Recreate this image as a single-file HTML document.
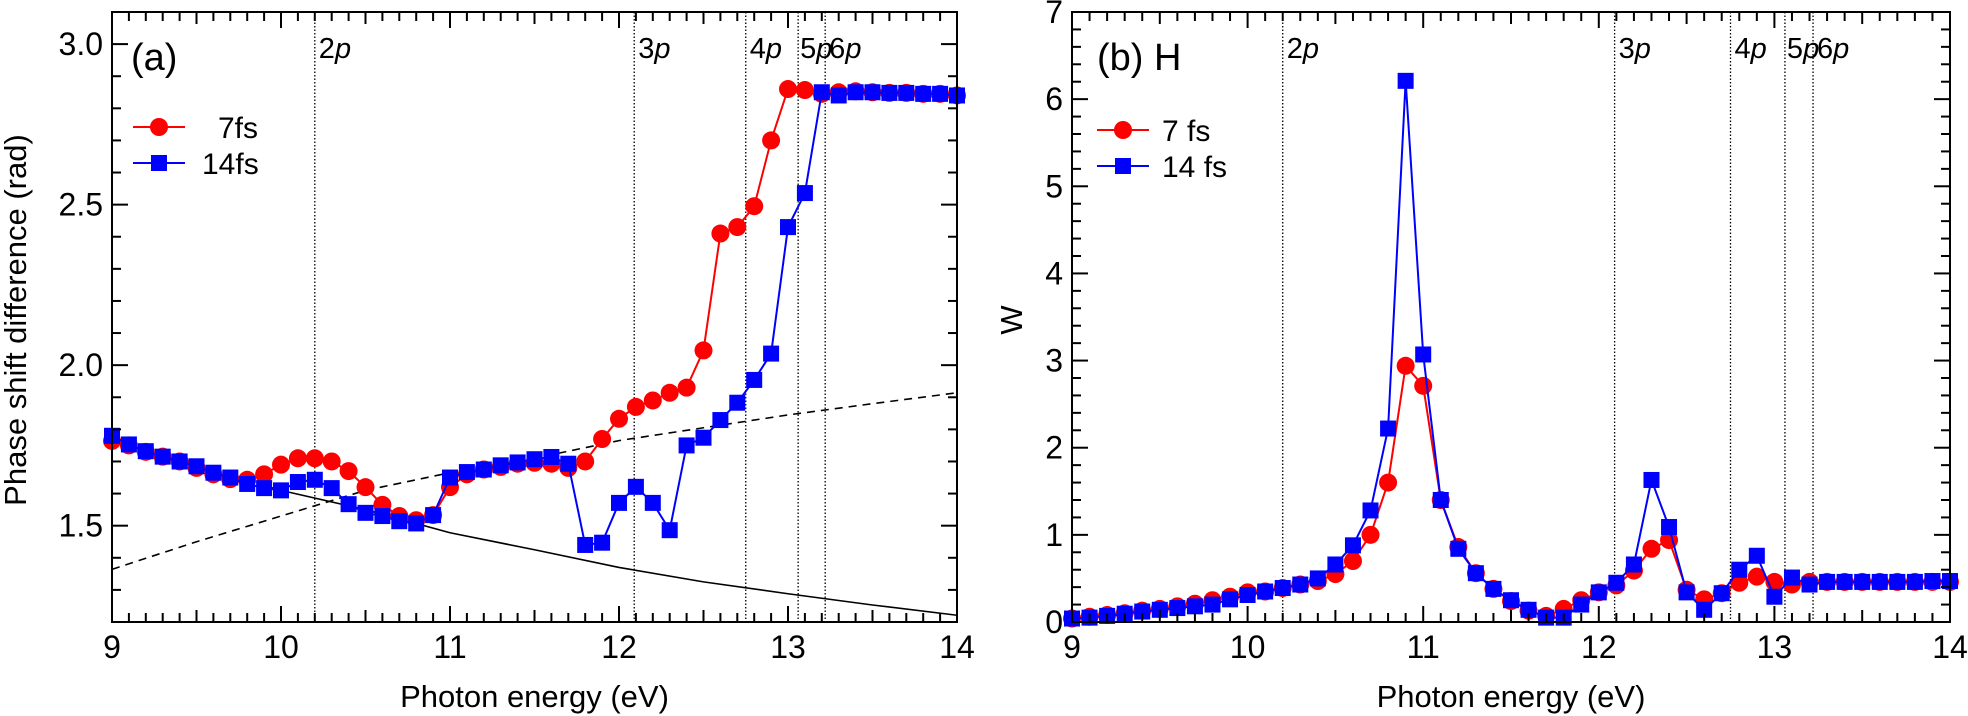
<!DOCTYPE html>
<html><head><meta charset="utf-8"><style>
html,body{margin:0;padding:0;background:#fff;}
svg{display:block;font-family:"Liberation Sans",Arial,sans-serif;}
</style></head><body>
<svg id="chart" width="1968" height="716" viewBox="0 0 1968 716"></svg>
<script>
// ---- shared x data ----
const energies = [9.0,9.1,9.2,9.3,9.4,9.5,9.6,9.7,9.8,9.9,10.0,10.1,10.2,10.3,10.4,10.5,10.6,10.7,10.8,10.9,11.0,11.1,11.2,11.3,11.4,11.5,11.6,11.7,11.8,11.9,12.0,12.1,12.2,12.3,12.4,12.5,12.6,12.7,12.8,12.9,13.0,13.1,13.2,13.3,13.4,13.5,13.6,13.7,13.8,13.9,14.0];
// ---- panel (a) phase shift ----
const phase7 = [1.764,1.75,1.73,1.715,1.70,1.68,1.66,1.645,1.643,1.66,1.69,1.71,1.71,1.70,1.67,1.62,1.565,1.53,1.517,1.533,1.62,1.66,1.675,1.683,1.693,1.696,1.693,1.68,1.70,1.77,1.833,1.87,1.89,1.914,1.93,2.046,2.41,2.43,2.495,2.70,2.86,2.857,2.845,2.85,2.853,2.85,2.848,2.848,2.845,2.845,2.84];
const phase14 = [1.78,1.753,1.732,1.715,1.70,1.685,1.665,1.65,1.63,1.617,1.61,1.636,1.643,1.617,1.567,1.54,1.53,1.514,1.507,1.533,1.65,1.667,1.675,1.688,1.697,1.707,1.714,1.693,1.44,1.447,1.571,1.621,1.571,1.486,1.75,1.774,1.829,1.883,1.954,2.036,2.43,2.536,2.85,2.84,2.85,2.85,2.848,2.848,2.845,2.845,2.84];
const solidE = [9.9,10.0,10.5,11.0,11.5,12.0,12.5,13.0,13.5,14.0];
const solidV = [1.625,1.61,1.55,1.478,1.425,1.37,1.325,1.288,1.253,1.221];
const dashE = [9.0,9.5,10.0,10.5,11.0,11.5,12.0,12.5,13.0,13.5,14.0];
const dashV = [1.364,1.45,1.53,1.61,1.665,1.71,1.765,1.805,1.845,1.88,1.914];
const aYTicks = [1.5,2.0,2.5,3.0];
const aYLabels = ["1.5","2.0","2.5","3.0"];
// ---- panel (b) W ----
const w7 = [0.04,0.06,0.08,0.10,0.13,0.15,0.18,0.21,0.25,0.29,0.34,0.35,0.39,0.43,0.47,0.55,0.70,1.0,1.6,2.94,2.71,1.40,0.86,0.56,0.38,0.24,0.13,0.07,0.15,0.25,0.34,0.42,0.59,0.84,0.94,0.37,0.26,0.33,0.45,0.52,0.46,0.43,0.46,0.46,0.46,0.46,0.46,0.46,0.46,0.46,0.46];
const w14 = [0.04,0.05,0.07,0.095,0.12,0.14,0.16,0.18,0.2,0.26,0.31,0.35,0.39,0.43,0.5,0.66,0.88,1.28,2.22,6.21,3.07,1.40,0.84,0.56,0.38,0.25,0.14,0.05,0.05,0.2,0.34,0.45,0.66,1.63,1.09,0.34,0.14,0.33,0.6,0.76,0.29,0.51,0.43,0.46,0.46,0.46,0.46,0.46,0.46,0.47,0.47];
const bYTicks = [0,1,2,3,4,5,6,7];
const xTicks = [9,10,11,12,13,14];
const levels = [10.2,12.09,12.75,13.06,13.22];
const levelNames = ["2","3","4","5","6"];

const NS="http://www.w3.org/2000/svg";
const svg=document.getElementById('chart');
function mk(tag,attrs,parent){const e=document.createElementNS(NS,tag);for(const k in attrs)e.setAttribute(k,attrs[k]);(parent||svg).appendChild(e);return e;}

function panel(p){
  const g=mk('g',{});
  
  
  const X=v=>p.x0+(v-9)/5*(p.x1-p.x0);
  const Y=v=>p.y1-(v-p.ymin)/(p.ymax-p.ymin)*(p.y1-p.y0);
  levels.forEach((e,i)=>{
    const l=mk('line',{x1:X(e),x2:X(e),y1:p.y0,y2:p.y1,stroke:'#000','stroke-width':1.3,'stroke-dasharray':'1.5,2'},g);
    
    
    const dx = (i===3)?2:4;
    const t=mk('text',{x:X(e)+dx,y:58,'font-size':29,'font-style':'normal'},g);
    
    
    t.innerHTML=levelNames[i]+'<tspan font-style="italic">p</tspan>';
  });
  if(p.extra)p.extra(g,X,Y);
  p.series.forEach(s=>{
    const pts=energies.map((e,i)=>X(e)+','+Y(s.v[i])).join(' ');
    const pl=mk('polyline',{points:pts,fill:'none',stroke:s.c,'stroke-width':2},g);
    
    
    energies.forEach((e,i)=>{
      let m;
      if(s.shape==='c') m=mk('circle',{cx:X(e),cy:Y(s.v[i]),r:9,fill:s.c},g);
      else m=mk('rect',{x:X(e)-8,y:Y(s.v[i])-8,width:16,height:16,fill:s.c},g);
      
      
    });
  });
  const fr=mk('rect',{x:p.x0,y:p.y0,width:p.x1-p.x0,height:p.y1-p.y0,fill:'none',stroke:'#000','stroke-width':2},g);
  
  
  for(let k=0;k<=50;k++){
    const v=9+k*0.1,len=(k%10===0)?16:(k%5===0?12:9),xx=X(v);
    mk('line',{x1:xx,x2:xx,y1:p.y1,y2:p.y1-len,stroke:'#000','stroke-width':2},g);
    mk('line',{x1:xx,x2:xx,y1:p.y0,y2:p.y0+len,stroke:'#000','stroke-width':2},g);
  }
  xTicks.forEach(v=>{const t=mk('text',{x:X(v),y:658,'font-size':32,'text-anchor':'middle'},g);t.textContent=v;
    });
  const n=Math.round((p.ymax-p.ymin)/p.minor);
  for(let k=0;k<=n;k++){
    const v=p.ymin+k*p.minor,yy=Y(v);
    const major=Math.abs((v/p.major)-Math.round(v/p.major))<1e-6;
    const len=major?16:9;
    mk('line',{x1:p.x0,x2:p.x0+len,y1:yy,y2:yy,stroke:'#000','stroke-width':2},g);
    mk('line',{x1:p.x1,x2:p.x1-len,y1:yy,y2:yy,stroke:'#000','stroke-width':2},g);
  }
  p.yTicks.forEach((v,i)=>{const t=mk('text',{x:p.x0-9,y:Y(v)+11,'font-size':32,'text-anchor':'end'},g);t.textContent=p.yLabels[i];
    });
  const xt=mk('text',{x:(p.x0+p.x1)/2,y:707,'font-size':31,'text-anchor':'middle'},g);xt.textContent='Photon energy (eV)';
  
  const yt=mk('text',{x:p.ytx,y:320,'font-size':31,'text-anchor':'middle',transform:'rotate(-90 '+p.ytx+' 320)'},g);yt.textContent=p.ytitle;
  
  const pt=mk('text',{x:p.x0+(p.name==='panel-a'?19:25),y:70,'font-size':38},g);pt.textContent=p.label;
  
  p.series.forEach((s,i)=>{
    const ly=p.legY[i];
    const lg=mk('g',{},g);
    
    
    mk('line',{x1:p.legX-26,x2:p.legX+26,y1:ly,y2:ly,stroke:s.c,'stroke-width':2},lg);
    if(s.shape==='c')mk('circle',{cx:p.legX,cy:ly,r:9,fill:s.c},lg);else mk('rect',{x:p.legX-8,y:ly-8,width:16,height:16,fill:s.c},lg);
    const t=mk('text',{x:p.legTx[i],y:ly+11,'font-size':30},lg);t.textContent=s.lab;
  });
}

panel({name:'panel-a',x0:112,x1:957,y0:12,y1:622,ymin:1.2,ymax:3.1,minor:0.1,major:0.5,
  yTicks:aYTicks,yLabels:aYLabels,ytitle:'Phase shift difference (rad)',ytx:26,label:'(a)',
  legX:159,legY:[127,163],legTx:[218,202],
  series:[{n:'7fs',v:phase7,c:'#ff0000',shape:'c',lab:'7fs'},{n:'14fs',v:phase14,c:'#0000ff',shape:'s',lab:'14fs'}],
  extra:(g,X,Y)=>{
    const s=mk('polyline',{points:solidE.map((e,i)=>X(e)+','+Y(solidV[i])).join(' '),fill:'none',stroke:'#000','stroke-width':1.6},g);
    
    const d=mk('polyline',{points:dashE.map((e,i)=>X(e)+','+Y(dashV[i])).join(' '),fill:'none',stroke:'#000','stroke-width':1.6,'stroke-dasharray':'8,6'},g);
    
  }});
panel({name:'panel-b',x0:1072,x1:1950,y0:12,y1:622,ymin:0,ymax:7,minor:0.2,major:1,
  yTicks:bYTicks,yLabels:bYTicks.map(String),ytitle:'W',ytx:1022,label:'(b) H',
  legX:1123,legY:[130,166],legTx:[1162,1162],
  series:[{n:'7fs',v:w7,c:'#ff0000',shape:'c',lab:'7 fs'},{n:'14fs',v:w14,c:'#0000ff',shape:'s',lab:'14 fs'}]});
</script>
</body></html>
